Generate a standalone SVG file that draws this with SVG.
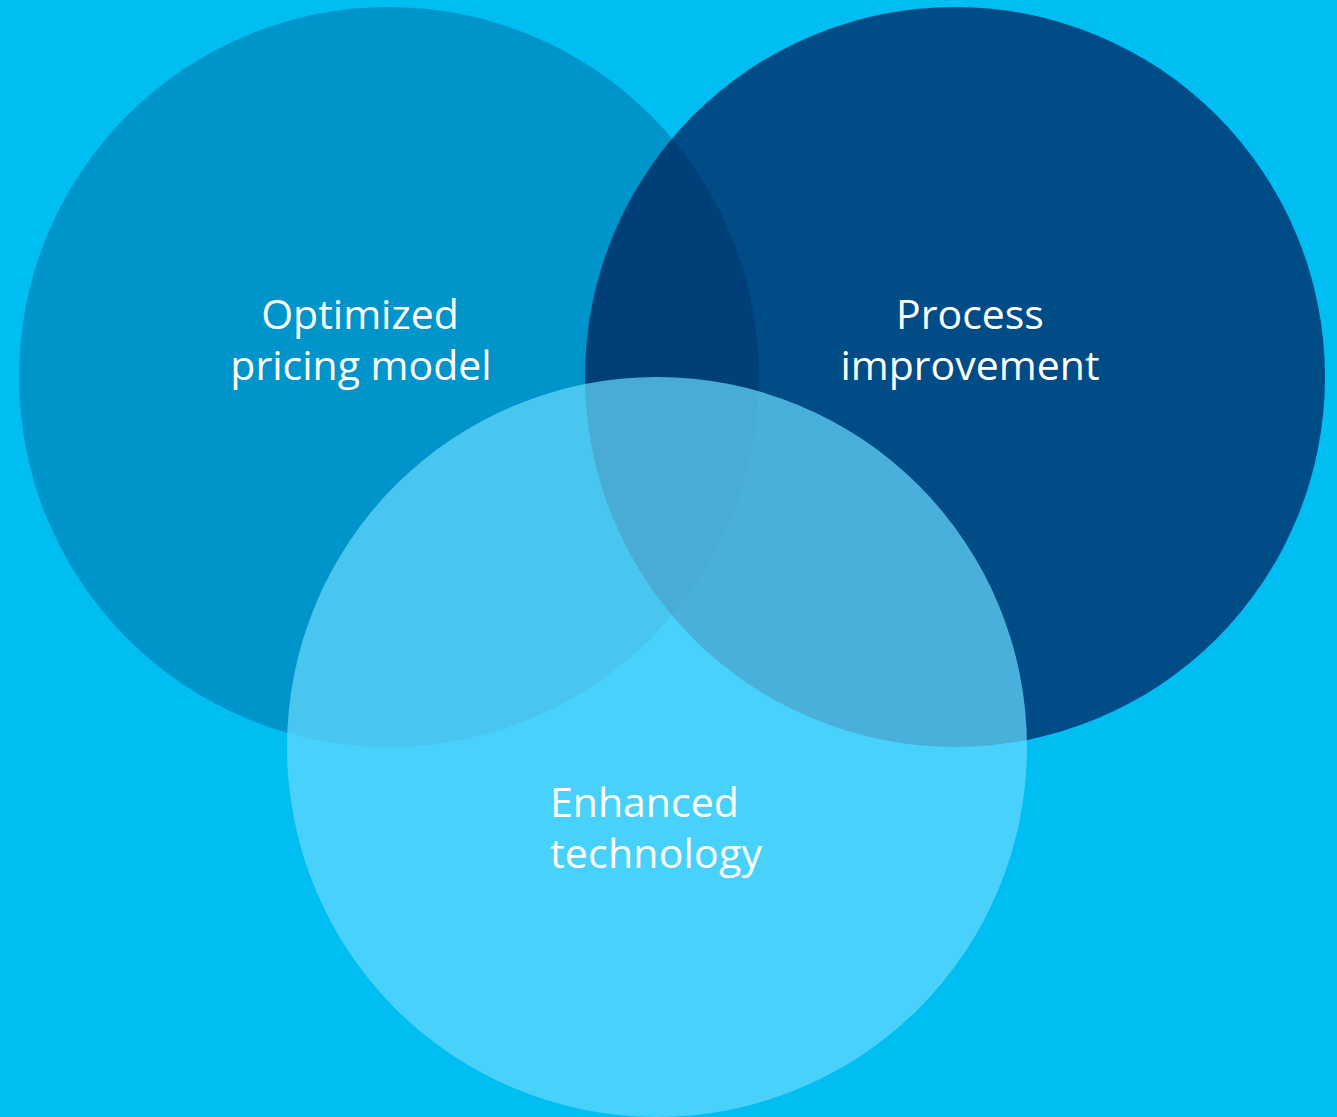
<svg xmlns="http://www.w3.org/2000/svg" width="1337" height="1117" viewBox="0 0 1337 1117">
<style>
.lbl{font-family:"Open Sans","Noto Sans","Liberation Sans",sans-serif;font-size:41px;fill:#ffffff;}
.c{text-anchor:middle;}
</style>
<rect width="1337" height="1117" fill="#00BDF2"/>
<g id="process">
<circle cx="955" cy="377" r="370" fill="#004C87"/>
</g>
<g id="pricing">
<circle cx="389" cy="377" r="370" fill="#001B4B" fill-opacity="0.24"/>
</g>
<g id="technology">
<circle cx="657" cy="747" r="370" fill="#67DBFF" fill-opacity="0.7"/>
</g>
<g id="labels">
<text class="lbl c" x="360" y="329">Optimized</text>
<text class="lbl c" x="361" y="380">pricing model</text>
<text class="lbl c" x="970" y="329">Process</text>
<text class="lbl c" x="970" y="380">improvement</text>
<text class="lbl" x="550" y="817">Enhanced</text>
<text class="lbl" x="550" y="868" textLength="212">technology</text>
</g>
<g id="connectors"/>
</svg>
